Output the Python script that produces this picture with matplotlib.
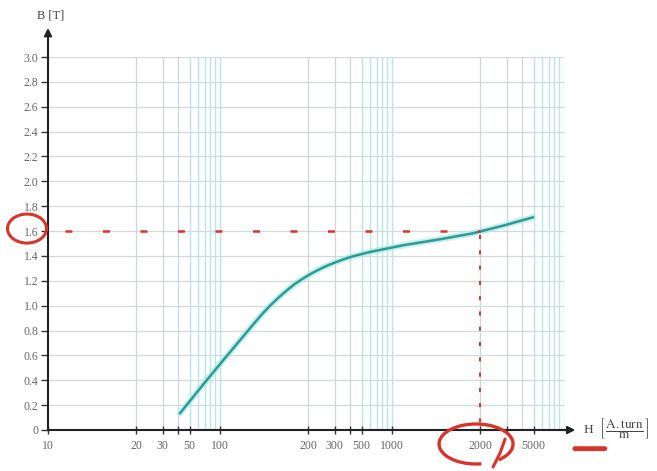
import numpy as np
import matplotlib
matplotlib.use("Agg")
import matplotlib.pyplot as plt
from matplotlib.patches import Ellipse, Arc
from matplotlib.transforms import ScaledTranslation

# B-H magnetisation curve
H = [41.5, 67.4, 100, 114, 130, 139, 148, 158, 169, 180, 193, 212, 240, 271, 311,
     364, 426, 600, 1093, 1459, 1891, 2914, 4950]
B = [0.134, 0.367, 0.530, 0.690, 0.850, 0.930, 0.998, 1.062, 1.122, 1.174, 1.221,
     1.261, 1.295, 1.325, 1.352, 1.377, 1.398, 1.432, 1.486, 1.534, 1.582, 1.647, 1.711]

x_labels = [10, 20, 30, 50, 100, 200, 300, 500, 1000, 2000, 5000]
x_extra_ticks = [40, 400, 3000]
y_ticks = [0, 0.2, 0.4, 0.6, 0.8, 1.0, 1.2, 1.4, 1.6, 1.8, 2.0, 2.2, 2.4, 2.6, 2.8, 3.0]

# working point marked in red
H_op = 2000
B_op = 1.6

# the paper's x axis is not a true log axis: position of m*10^d inside a decade
mant = [1, 2, 3, 4, 5, 6, 7, 8, 9]
frac = [0, 0.512, 0.667, 0.756, 0.823, 0.872, 0.913, 0.942, 0.970]

logk = []
posk = []
for d in range(0, 5):
    for m, f in zip(mant, frac):
        logk.append(d + np.log10(m))
        posk.append(d + f)
logk.append(5.0)
posk.append(5.0)
logk = np.array(logk)
posk = np.array(posk)


def fwd(h):
    h = np.maximum(np.asarray(h, dtype=float), 1e-9)
    return np.interp(np.log10(h), logk, posk)


def inv(p):
    return 10 ** np.interp(np.asarray(p, dtype=float), posk, logk)


plt.rcParams['font.family'] = ['Liberation Serif', 'DejaVu Serif']
plt.rcParams['mathtext.fontset'] = 'stix'
plt.rcParams['lines.scale_dashes'] = False

W, Hpx = 657, 471
fig = plt.figure(figsize=(W / 100, Hpx / 100), dpi=100)
ax = fig.add_axes([48 / W, (Hpx - 430) / Hpx, (564 - 48) / W, (430 - 57) / Hpx])
ax.set_xscale('function', functions=(fwd, inv))
ax.set_xlim(10, 10000)
ax.set_ylim(0, 3.0)

# grid
for yv in y_ticks[1:]:
    ax.axhline(yv, color='#d3d9d9', lw=0.9, zorder=0)
for d in [10, 100, 1000]:
    for m in range(2, 11):
        v = m * d
        if m in (2, 3, 4):
            c, lw = '#cfd6d6', 0.9
        else:
            c, lw = '#b8e6e2', 1.0
        ax.axvline(v, color=c, lw=lw, zorder=0)

# curve with a soft cyan halo like the scan
ax.plot(H, B, color='#a8ece8', lw=4.5, alpha=0.7, solid_capstyle='round',
        solid_joinstyle='round', zorder=3)
ax.plot(H, B, color='#2f9a94', lw=1.8, solid_capstyle='round',
        solid_joinstyle='round', zorder=4)

# red hand annotations
red = '#d8342a'
ax.plot([11.4, H_op], [B_op, B_op], color=red, lw=1.8, dashes=(5, 22), zorder=5)
ax.plot([H_op, H_op], [B_op - 0.03, 0], color=red, lw=1.4, dashes=(3, 8), zorder=5)

for s in ['top', 'right']:
    ax.spines[s].set_visible(False)
for s in ['left', 'bottom']:
    ax.spines[s].set_linewidth(1.5)
    ax.spines[s].set_color('#222222')

ax.set_yticks(y_ticks)
ax.set_yticklabels(['0'] + ['%.1f' % v for v in y_ticks[1:]])
ax.set_xticks(x_labels)
ax.set_xticklabels([str(v) for v in x_labels])
ax.set_xticks(x_extra_ticks, minor=True)
ax.tick_params(axis='y', direction='out', length=5, width=1, pad=2,
               labelsize=8.5, labelcolor='#666666', color='#333333')
ax.tick_params(axis='x', which='both', direction='inout', length=6, width=1, pad=4,
               labelsize=8.5, labelcolor='#666666', color='#333333')

# axis arrows
ax.annotate('', xy=(0, 1.078), xytext=(0, 0.99), xycoords='axes fraction',
            arrowprops=dict(arrowstyle='-|>', color='#222222', lw=1.5,
                            mutation_scale=11, shrinkA=0, shrinkB=0))
ax.annotate('', xy=(1.022, 0), xytext=(0.99, 0), xycoords='axes fraction',
            arrowprops=dict(arrowstyle='-|>', color='#222222', lw=1.5,
                            mutation_scale=11, shrinkA=0, shrinkB=0))

ax.text(0.006, 1.11, 'B [T]', transform=ax.transAxes, ha='center', va='center',
        fontsize=9, color='#444444')
ax.text(1.036, 0.003, r'H  $\left[\,\dfrac{\mathrm{A.turn}}{\mathrm{m}}\,\right]$',
        transform=ax.transAxes, ha='left', va='center', fontsize=9.5, color='#444444')

# circle round the 1.6 label (sizes in inches, anchored on the data point)
t1 = fig.dpi_scale_trans + ScaledTranslation(10, B_op, ax.transData)
ax.add_patch(Ellipse((-0.21, 0.025), 0.39, 0.29, transform=t1, fill=False, ec=red,
                     lw=2.2, clip_on=False, zorder=6))

# loose hand-drawn loop round the 2000 label
t2 = fig.dpi_scale_trans + ScaledTranslation(H_op, 0, ax.transData)
ax.add_patch(Arc((-0.04, -0.14), 0.74, 0.40, theta1=-35, theta2=285, transform=t2,
                 fill=False, ec=red, lw=2.4, clip_on=False, zorder=6))
ax.plot([0.25, 0.20, 0.13], [-0.09, -0.23, -0.37], transform=t2, color=red, lw=2.2,
        solid_capstyle='round', clip_on=False, zorder=6)

# underline under the unit
ax.annotate('', xy=(1.079, -0.05), xytext=(1.021, -0.05), xycoords='axes fraction',
            arrowprops=dict(arrowstyle='-', color=red, lw=3.5, shrinkA=0, shrinkB=0))

fig.savefig('out.png', dpi=100, facecolor='white')
